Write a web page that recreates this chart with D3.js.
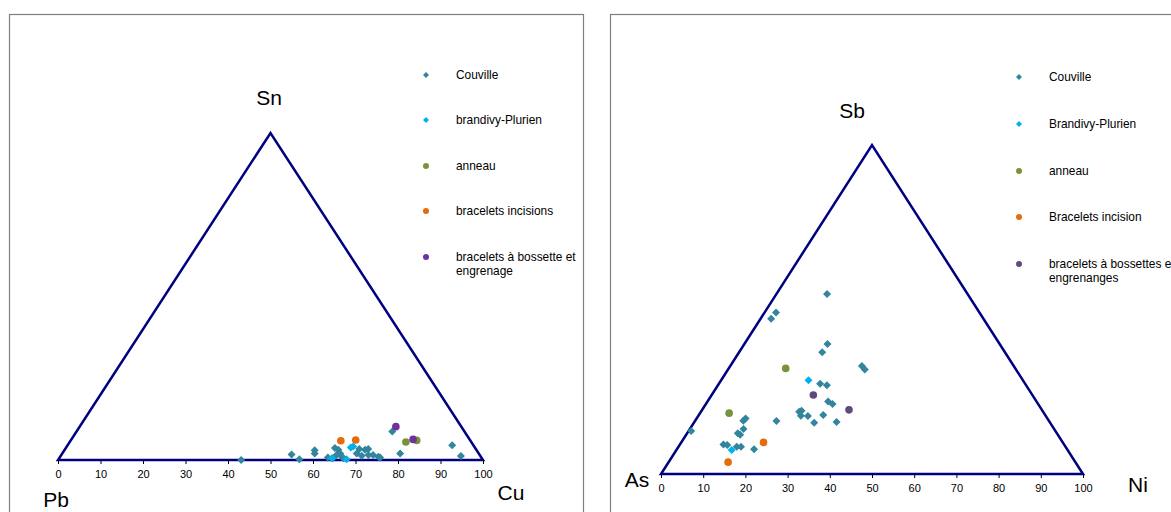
<!DOCTYPE html>
<html>
<head>
<meta charset="utf-8">
<script src="https://cdn.jsdelivr.net/npm/d3@7"></script>
<style>
  body { margin: 0; background: #fff; }
  svg { display: block; font-family: "Liberation Sans", Arial, sans-serif; }
</style>
</head>
<body>
<svg id="chart" width="1171" height="512"></svg>
<script>
// Left diagram: [Cu, Sn] in %, Pb is the remainder
let leftCouville = [[43.1,0],[54.1,1.7],[56.7,0.2],[58.9,3.0],[59.4,2.0],[63.1,0.8],[64.4,0.5],[63.3,3.7],[64.4,3.1],[65.4,2.0],[64.8,1.5],[66.3,1.0],[66.9,0.5],[69.3,2.0],[69.2,3.4],[70.8,1.3],[70.7,3.1],[71.3,3.4],[72.3,1.5],[73.4,1.5],[74.9,1.0],[75.4,0.8],[74.3,8.7],[79.5,2.0],[90.5,4.5],[94.2,1.2]];
let leftBrandivy = [[64.2,0.5],[67.8,0.2],[67.0,3.8],[67.4,4.1]];
let leftAnneau = [[79.1,5.5],[81.4,6.0]];
let leftIncisions = [[63.6,5.9],[67.0,6.1]];
let leftBossette = [[74.4,10.2],[80.4,6.3]];

// Right diagram: [Ni, Sb] in %, As is the remainder
let rightCouville = [[0.6,13.1],[12.0,54.7],[2.7,49.1],[2.5,47.2],[19.7,39.5],[19.7,37.0],[31.2,32.8],[32.4,31.8],[24.0,27.4],[25.8,27.0],[28.6,22.0],[30.0,21.3],[23.3,18.9],[23.7,19.2],[24.3,17.7],[26.0,17.6],[29.5,17.9],[28.5,15.6],[33.7,15.8],[19.3,16.1],[11.6,16.9],[11.4,16.2],[12.7,13.7],[12.0,12.4],[12.8,11.9],[10.3,9.0],[11.3,8.8],[13.8,8.3],[14.8,8.3],[18.3,7.5]];
let rightBrandivy = [[20.7,28.5],[13.1,7.3]];
let rightAnneau = [[13.5,32.1],[6.9,18.5]];
let rightIncision = [[19.5,9.6],[14.1,3.6]];
let rightBossettes = [[24.1,24.0],[34.8,19.5]];

let ticks = [0,10,20,30,40,50,60,70,80,90,100];

let leftNames = ['Couville', 'brandivy-Plurien', 'anneau', 'bracelets incisions', 'bracelets à bossette et|engrenage'];
let rightNames = ['Couville', 'Brandivy-Plurien', 'anneau', 'Bracelets incision', 'bracelets à bossettes et|engrenanges'];

let svg = d3.select('#chart');

// panel frames
svg.append('rect').attr('x', 9.5).attr('y', 14.5).attr('width', 574).attr('height', 520)
  .attr('fill', 'none').attr('stroke', '#7f7f7f').attr('stroke-width', 1.2);
svg.append('rect').attr('x', 610.5).attr('y', 14.5).attr('width', 600).attr('height', 520)
  .attr('fill', 'none').attr('stroke', '#7f7f7f').attr('stroke-width', 1.2);

function drawPanel(p) {
  let x = d3.scaleLinear().domain([0, 100]).range([p.x0, p.x1]);
  let y = d3.scaleLinear().domain([0, 100]).range([p.base, p.apex]);
  let g = svg.append('g');

  // triangle
  g.append('path')
    .attr('d', d3.line()([[x(0), y(0)], [x(100), y(0)], [x(50), y(100)]]) + 'Z')
    .attr('fill', 'none').attr('stroke', '#000080').attr('stroke-width', 2.5)
    .attr('stroke-linejoin', 'miter');

  // bottom axis
  let axis = g.append('g')
    .attr('transform', 'translate(0,' + y(0) + ')')
    .call(d3.axisBottom(x).tickValues(ticks).tickSize(4).tickPadding(6));
  axis.select('.domain').remove();
  axis.selectAll('line').attr('stroke', '#000');
  axis.selectAll('text').attr('font-size', 11).attr('font-family', '"Liberation Sans", Arial, sans-serif');

  // corner labels
  p.corners.forEach(function(c) {
    g.append('text').attr('x', c.x).attr('y', c.y).attr('text-anchor', 'middle')
      .attr('dominant-baseline', 'central').attr('font-size', 21).text(c.t);
  });

  let diamond = d3.symbol(d3.symbolSquare, 32);
  let smallDiamond = d3.symbol(d3.symbolSquare, 18);

  p.series.forEach(function(s, i) {
    let pts = g.append('g');
    s.data.forEach(function(d) {
      let px = x(d[0] + d[1] / 2), py = y(d[1]);
      if (s.shape === 'diamond') {
        pts.append('path').attr('d', diamond())
          .attr('transform', 'translate(' + px + ',' + py + ') rotate(45)')
          .attr('fill', s.color);
      } else {
        pts.append('circle').attr('cx', px).attr('cy', py).attr('r', 3.8).attr('fill', s.color);
      }
    });

    // legend
    let ly = p.legY[i];
    if (s.shape === 'diamond') {
      g.append('path').attr('d', smallDiamond())
        .attr('transform', 'translate(' + p.legX + ',' + ly + ') rotate(45)').attr('fill', s.color);
    } else {
      g.append('circle').attr('cx', p.legX).attr('cy', ly).attr('r', 3).attr('fill', s.color);
    }
    s.name.split('|').forEach(function(line, k) {
      g.append('text').attr('x', p.legX + 30).attr('y', ly + k * 14)
        .attr('dominant-baseline', 'central').attr('font-size', 11.9).text(line);
    });
  });
}

drawPanel({
  x0: 58, x1: 483, base: 460, apex: 133,
  legX: 426, legY: [75, 120, 166, 211, 257],
  corners: [{t: 'Sn', x: 269, y: 97}, {t: 'Pb', x: 56, y: 499}, {t: 'Cu', x: 511, y: 492}],
  series: [
    {name: leftNames[0], data: leftCouville, color: '#31859C', shape: 'diamond'},
    {name: leftNames[1], data: leftBrandivy, color: '#00B0F0', shape: 'diamond'},
    {name: leftNames[2], data: leftAnneau, color: '#77933C', shape: 'circle'},
    {name: leftNames[3], data: leftIncisions, color: '#E46C0A', shape: 'circle'},
    {name: leftNames[4], data: leftBossette, color: '#7030A0', shape: 'circle'}
  ]
});

drawPanel({
  x0: 661, x1: 1083, base: 474, apex: 145,
  legX: 1019, legY: [77, 124, 171, 217, 264],
  corners: [{t: 'Sb', x: 852, y: 110}, {t: 'As', x: 637, y: 479}, {t: 'Ni', x: 1138, y: 484}],
  series: [
    {name: rightNames[0], data: rightCouville, color: '#31859C', shape: 'diamond'},
    {name: rightNames[1], data: rightBrandivy, color: '#00B0F0', shape: 'diamond'},
    {name: rightNames[2], data: rightAnneau, color: '#77933C', shape: 'circle'},
    {name: rightNames[3], data: rightIncision, color: '#E46C0A', shape: 'circle'},
    {name: rightNames[4], data: rightBossettes, color: '#604A7B', shape: 'circle'}
  ]
});
</script>
</body>
</html>
